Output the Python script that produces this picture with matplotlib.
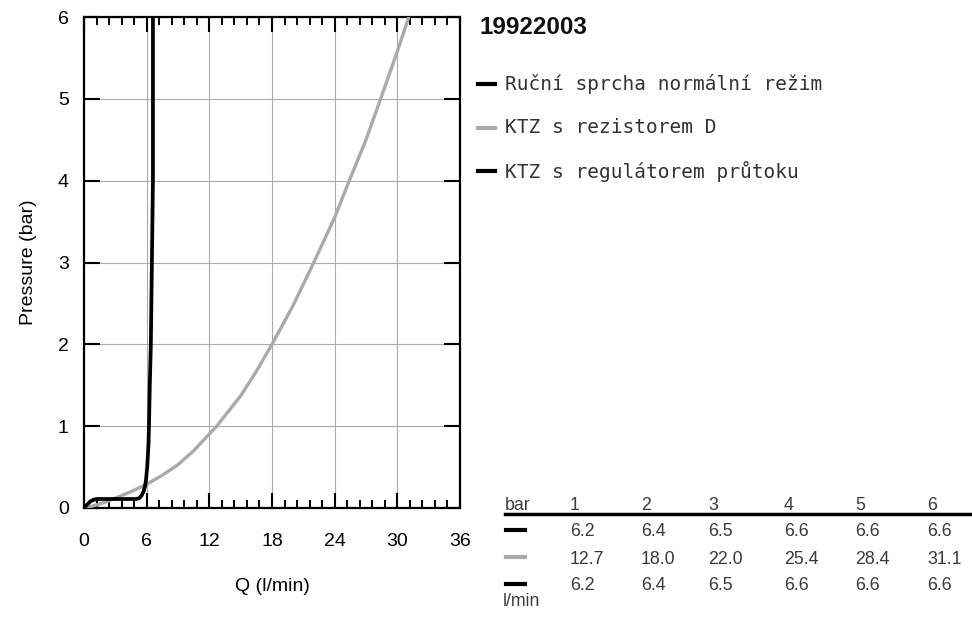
import matplotlib
matplotlib.use("Agg")
import matplotlib.pyplot as plt
from matplotlib.ticker import MultipleLocator
from matplotlib.lines import Line2D

# ---- data ----
title = "19922003"
series_names = ["Ruční sprcha normální režim", "KTZ s rezistorem D", "KTZ s regulátorem průtoku"]
series_colors = ["#000000", "#aaaaaa", "#000000"]

# curve of hand shower (normal mode) and flow regulator (identical)
q_black = [0, 0.3, 0.6, 0.9, 1.2, 2.0, 3.0, 4.0, 5.0, 5.3, 5.5, 5.7, 5.85, 5.95, 6.05, 6.12, 6.18, 6.22,
           6.3, 6.4, 6.5, 6.55, 6.6, 6.6, 6.6]
p_black = [0, 0.04, 0.08, 0.1, 0.11, 0.11, 0.11, 0.11, 0.11, 0.12, 0.15, 0.2, 0.27, 0.36, 0.5, 0.65,
           0.8, 1.0, 1.5, 2.0, 3.0, 3.5, 4.0, 5.0, 6.0]

# curve of KTZ with resistor D
q_gray = [0, 1, 2, 3, 4.5, 6, 7.5, 9, 10.5, 12.7, 15, 16.5, 18.0, 20, 22.0, 24, 25.4, 27, 28.4, 30, 31.1]
p_gray = [0, 0.03, 0.07, 0.12, 0.2, 0.29, 0.4, 0.53, 0.7, 1.0, 1.37, 1.67, 2.0, 2.47, 3.0, 3.55, 4.0, 4.5,
          5.0, 5.58, 6.0]

table_pressures = ["1", "2", "3", "4", "5", "6"]
table_row1 = ["6.2", "6.4", "6.5", "6.6", "6.6", "6.6"]
table_row2 = ["12.7", "18.0", "22.0", "25.4", "28.4", "31.1"]
table_row3 = ["6.2", "6.4", "6.5", "6.6", "6.6", "6.6"]

xticks = [0, 6, 12, 18, 24, 30, 36]
yticks = [0, 1, 2, 3, 4, 5, 6]

# ---- figure ----
W, H = 972, 624
fig = plt.figure(figsize=(W / 100, H / 100), dpi=100)
plt.rcParams['font.family'] = ['Liberation Sans', 'DejaVu Sans']

def fx(px):
    return px / W

def fy(py):
    return 1 - py / H

ax = fig.add_axes([fx(84), fy(508), fx(460) - fx(84), fy(17) - fy(508)])
ax.plot(q_gray, p_gray, color=series_colors[1], lw=2.4, solid_capstyle='round',
        solid_joinstyle='round', zorder=3)
ax.plot(q_black, p_black, color=series_colors[0], lw=2.7, solid_capstyle='round',
        solid_joinstyle='round', zorder=4)
ax.set_xlim(0, 36)
ax.set_ylim(0, 6)
ax.set_xticks(xticks)
ax.set_yticks(yticks)
ax.xaxis.set_minor_locator(MultipleLocator(1.2))
ax.grid(True, which='major', color='#aaaaaa', lw=0.8)
ax.set_axisbelow(True)
for s in ax.spines.values():
    s.set_linewidth(1.6)
ax.tick_params(axis='x', which='major', direction='in', top=True, bottom=True, length=11, width=1.5,
               labelsize=14, pad=18, colors='black')
ax.tick_params(axis='x', which='minor', direction='in', top=True, bottom=True, length=5.5, width=1.4)
ax.tick_params(axis='y', which='major', direction='in', left=True, right=True, length=11.5, width=1.5,
               labelsize=14, pad=11)
ax.set_xlabel("Q (l/min)", fontsize=14, labelpad=20)
ax.set_ylabel("Pressure (bar)", fontsize=14, labelpad=15)

# title
fig.text(fx(479), fy(27), title, fontsize=17.5, fontweight='bold', va='center', ha='left', color='#111111')

# legend
leg_y = [84, 128, 171]
for name, col, yy in zip(series_names, series_colors, leg_y):
    fig.add_artist(Line2D([fx(478), fx(495)], [fy(yy), fy(yy)], color=col, lw=3))
    fig.text(fx(505), fy(yy), name, fontsize=14, family='DejaVu Sans Mono', va='center', ha='left',
             color='#333333')

# table
col_x = [570, 641, 708, 784, 855, 927]
txt_col = '#3a3a3a'
fs_t = 12.8
fig.text(fx(505), fy(505), "bar", fontsize=fs_t, va='center', ha='left', color=txt_col)
for x, t in zip(col_x, table_pressures):
    fig.text(fx(x), fy(505), t, fontsize=fs_t, va='center', ha='left', color=txt_col)
fig.add_artist(Line2D([fx(505), fx(970)], [fy(514), fy(514)], color='black', lw=2.5))
rows = [table_row1, table_row2, table_row3]
row_y = [532, 559, 586]
for r, yy, col in zip(rows, row_y, series_colors):
    fig.add_artist(Line2D([fx(506), fx(525)], [fy(yy - 2), fy(yy - 2)], color=col, lw=3))
    for x, t in zip(col_x, r):
        fig.text(fx(x), fy(yy), t, fontsize=fs_t, va='center', ha='left', color=txt_col)
fig.text(fx(503), fy(602), "l/min", fontsize=fs_t, va='center', ha='left', color=txt_col)

fig.savefig("out.png", dpi=100)
